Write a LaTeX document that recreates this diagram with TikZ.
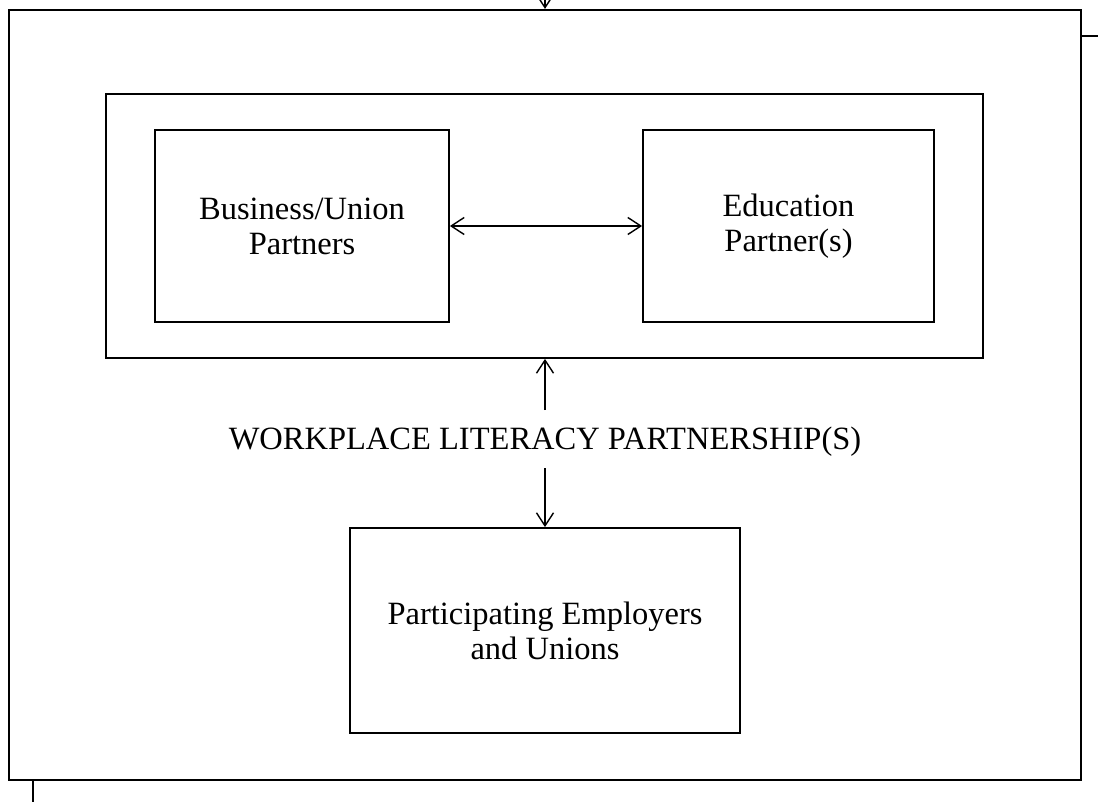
\documentclass[tikz,border=0pt]{standalone}
\usepackage{fontspec}
\setmainfont{Liberation Serif}
\usetikzlibrary{arrows.meta}
\begin{document}
\begin{tikzpicture}[x=1pt,y=-1pt,
  frame/.style={draw=black,line width=2.2pt,fill=white},
  box/.style={draw=black,line width=1.8pt,inner sep=0pt,align=center,
    font=\fontsize{32.5}{35}\selectfont},
  link/.style={line width=1.4pt,-{Straight Barb[length=13pt,width=17pt,line width=1.4pt]}},
  twoway/.style={line width=1.4pt,{Straight Barb[length=13pt,width=17pt,line width=1.4pt]}-{Straight Barb[length=13pt,width=17pt,line width=1.4pt]}}]
\useasboundingbox[fill=white] (0,0) rectangle (1098,802);
% sheet edge behind the frame
\draw[line width=1.6pt] (33,36) rectangle (1130,840);
% outer frame
\node[frame,inner sep=0pt,minimum width=1072pt,minimum height=770pt] (outer) at (545,395) {};
% partnership frame and partners
\node[box,minimum width=877pt,minimum height=264pt] (mid) at (544.5,226) {};
\node[box,minimum width=294pt,minimum height=192pt] (bus) at (302,226) {Business/Union\\Partners};
\node[box,minimum width=291pt,minimum height=192pt] (edu) at (788.5,226) {Education\\Partner(s)};
% participants
\node[box,minimum width=390pt,minimum height=205pt] (emp) at (545,630.5) {Participating Employers\\and Unions};
% label
\node[anchor=base,inner sep=0pt,font=\fontsize{32.5}{35}\selectfont] (wlp) at (545,449) {WORKPLACE LITERACY PARTNERSHIP(S)};
% connectors
\coordinate (topIn) at (545,-20);
\coordinate (upTail) at (545,410);
\coordinate (downTail) at (545,468);
\draw[link] (topIn) -- (outer.north);
\draw[twoway] (bus.east) -- (edu.west);
\draw[link] (upTail) -- (upTail |- mid.south);
\draw[link] (downTail) -- (downTail |- emp.north);
\end{tikzpicture}
\end{document}
